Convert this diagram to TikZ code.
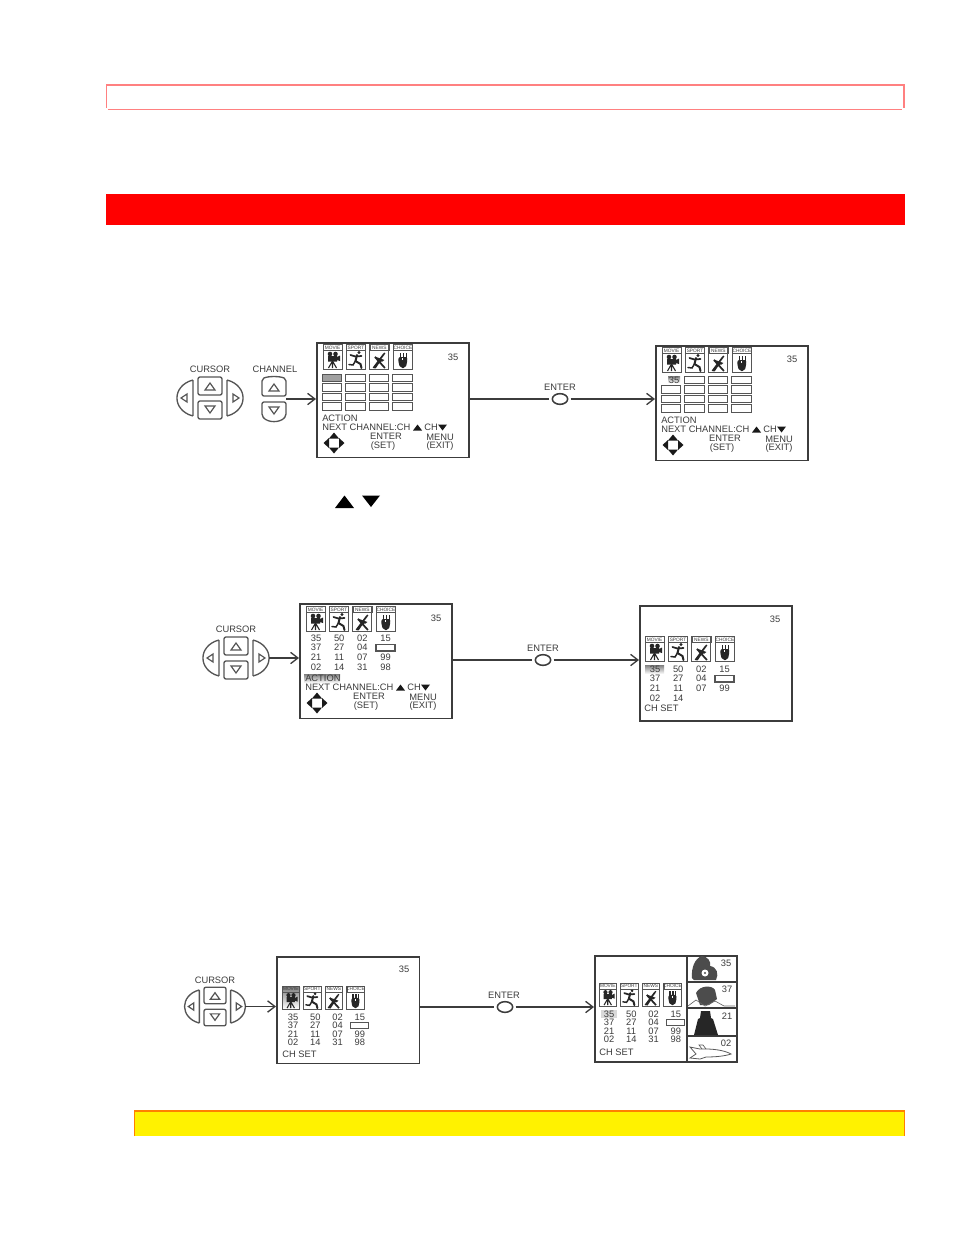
\documentclass[tikz,border=0pt]{standalone}
\usepackage{fontspec}
\setmainfont{Liberation Sans}
\usepackage{xcolor}
\usetikzlibrary{arrows.meta, calc, shapes.geometric}
\definecolor{ink}{HTML}{3C3C3C}
\definecolor{keyline}{HTML}{555555}
\definecolor{shade}{HTML}{A0A0A0}
\definecolor{pinkline}{HTML}{FF8080}
\definecolor{orangeline}{HTML}{FF8000}

\tikzset{
  panel/.style={draw=ink, line width=1.35pt, fill=white, inner sep=0pt, anchor=north west},
  enterbtn/.style={draw=ink, line width=1.15pt, ellipse, minimum width=11.5pt, minimum height=8pt, inner sep=0pt, outer sep=2.2pt},
  wire/.style={draw=ink, line width=1pt},
  label/.style={text=ink, font=\fontsize{7}{8}\selectfont, inner sep=0pt},
  tiny/.style={text=ink, font=\fontsize{3.6}{4}\selectfont, inner sep=0pt},
  key/.style={draw=keyline, line width=1pt, rounded corners=1.5pt, fill=white},
  cell/.style={draw=keyline, line width=.6pt},
  % cursor keys, centre of the pad at the origin
  pics/cursorpad/.style={code={
    \draw[key] (-12,-21) rectangle (12,-3);
    \draw[key] (-12,3) rectangle (12,21);
    \draw[keyline, line width=.9pt] (-5,-8) -- (0,-15) -- (5,-8) -- cycle;
    \draw[keyline, line width=.9pt] (-5,8) -- (0,15) -- (5,8) -- cycle;
    \draw[key, rounded corners=.5pt] (-17,-18) .. controls (-28,-15) and (-33,-7) .. (-33,0) .. controls (-33,7) and (-28,15) .. (-17,18) -- cycle;
    \draw[key, rounded corners=.5pt] (17,-18) .. controls (28,-15) and (33,-7) .. (33,0) .. controls (33,7) and (28,15) .. (17,18) -- cycle;
    \draw[keyline, line width=.9pt] (-23,-4) -- (-29,0) -- (-23,4) -- cycle;
    \draw[keyline, line width=.9pt] (23,-4) -- (29,0) -- (23,4) -- cycle;
    \coordinate (-out) at (33,0);
  }},
  % channel keys, same origin
  pics/channelpad/.style={code={
    \draw[key] (-12,-20) .. controls (-6,-23) and (6,-23) .. (12,-20) -- (12,-3) -- (-12,-3) -- cycle;
    \draw[key] (-12,3) -- (12,3) -- (12,17) .. controls (6,24) and (-6,24) .. (-12,17) -- cycle;
    \draw[keyline, line width=.9pt] (-5,-8) -- (0,-15) -- (5,-8) -- cycle;
    \draw[keyline, line width=.9pt] (-5,8) -- (0,15) -- (5,8) -- cycle;
    \coordinate (-out) at (12,0);
  }},
  % the four programme icons
  pics/iconrow/.style={code={
    \foreach \ix/\word in {0/MOVIE,1/SPORT,2/NEWS,3/CHOICE} {
      \begin{scope}[xshift=\ix*17.6pt]
        \draw[keyline, line width=.7pt] (0,0) rectangle (19,25.5);
        \draw[keyline, line width=.4pt] (0,0) rectangle (19,6.5);
        \node[tiny] (-word\ix) at (9.5,3.4) {\word};
      \end{scope}
    }
    % camera
    \fill[black!85] (7,10) circle (2.3) (12.5,10) circle (2.3) (5,12) rectangle (14,17.5) (14,13) -- (17,11.5) -- (17,17) -- (14,16) -- cycle;
    \draw[black!85, line width=.8pt] (9.5,17) -- (5.5,24) (9.5,17) -- (13.5,24) (9.5,17) -- (9.5,24);
    % runner
    \begin{scope}[xshift=17.6pt]
      \fill[black!85] (12.5,8.5) circle (1.6);
      \draw[black!85, line width=1.3pt, line cap=round] (4,11) -- (9,12.5) -- (15,12);
      \draw[black!85, line width=1.5pt, line cap=round] (10.5,11) -- (9,17) -- (14,20) -- (15,24);
      \draw[black!85, line width=1.1pt, line cap=round] (9,17) -- (6.5,21) -- (2.5,20.5);
    \end{scope}
    % dish
    \begin{scope}[xshift=35.2pt]
      \draw[black!85, line width=1.3pt] (3.5,24) -- (14,10) (5,13) -- (15,24) (9,18) -- (5,24);
      \fill[black!85] (5,12.5) .. controls (8,19) and (12,19) .. (14.5,16) -- (9,14) -- cycle;
      \fill[black!85] (14.5,9.5) circle (1);
    \end{scope}
    % hand
    \begin{scope}[xshift=52.8pt]
      \fill[black!85, rounded corners=1.5pt] (5,13) -- (14,13) -- (13.5,20) -- (12,24) -- (7,24) -- (5,19) -- cycle;
      \fill[white] (9,13.5) rectangle (9.7,16);
      \draw[black!85, line width=1.1pt] (7,9) -- (7,14) (10,9) -- (10,14) (13,9) -- (13,14);
    \end{scope}
  }},
  % lines under the grid or the table
  pics/menufoot/.style={code={
    \node[label, anchor=west] (-action) at (0,0) {ACTION};
    \node[label, anchor=west] (-next) at (0,9.5) {NEXT CHANNEL:CH};
    \fill[black!90] (91,12.5) -- (95.5,6.5) -- (100,12.5) -- cycle;
    \node[label, anchor=west] (-ch) at (102,9.5) {CH};
    \fill[black!90] (116,6.5) -- (120.5,12.5) -- (125,6.5) -- cycle;
    \node[label] (-enter) at (64,18.5) {ENTER};
    \node[label] (-set) at (61,28) {(SET)};
    \node[label] (-menu) at (118,19) {MENU};
    \node[label] (-exit) at (118,28) {(EXIT)};
    \fill[black!90] (12,14.5) -- (7,20.5) -- (17,20.5) -- cycle
      (12,35.5) -- (7,29.5) -- (17,29.5) -- cycle
      (1.5,25) -- (7,20) -- (7,30) -- cycle
      (22.5,25) -- (17,20) -- (17,30) -- cycle;
  }},
  % channel numbers in four columns
  pics/chantable/.style={code={
    \foreach \txt [count=\i from 0] in {#1} {
      \pgfmathtruncatemacro{\icol}{mod(\i,4)}
      \pgfmathtruncatemacro{\irow}{int(\i/4)}
      \node[label] (-n\i) at (\icol*23.2,\irow*9.6) {\txt};
    }
    \draw[cell, line width=.8pt] (60,6.5) rectangle (79,13);
  }},
}

\begin{document}
\begin{tikzpicture}[x=.75pt, y=-.75pt, >={Straight Barb[length=5.5pt, width=8.5pt]}]
  \useasboundingbox (0,0) rectangle (954,1235);

  % Page bars
  \draw[pinkline, line width=.8pt] (106.5,108) -- (106.5,85) -- (904,85) -- (904,108);
  \draw[pinkline, line width=.8pt] (108,109.3) -- (902,109.3);
  \fill[red] (106,194) rectangle (905,225);
  \fill[yellow] (134.5,1110) rectangle (904.5,1136);
  \draw[orangeline, line width=.5pt] (134.5,1136) -- (134.5,1110.5) (904.5,1110.5) -- (904.5,1136);
  \draw[orangeline, line width=1.3pt] (134,1110.7) -- (905,1110.7);

  % First row
  \node[label] (cursorA) at (210,369) {CURSOR};
  \node[label] (channelA) at (275,369) {CHANNEL};
  \pic (padA) at (210,398) {cursorpad};
  \pic (chanA) at (274,399) {channelpad};
  \node[panel, minimum width=114pt, minimum height=86pt] (menuA) at (316,342) {};
  \node[panel, minimum width=114pt, minimum height=86pt] (menuB) at (655,345) {};
  \node[enterbtn] (enterA) at (560,399) {};
  \node[label] (enterlabelA) at (560,387) {ENTER};
  \draw[->, wire] (chanA-out) -- (chanA-out -| menuA.west);
  \draw[wire] (menuA.east |- enterA) -- (enterA);
  \draw[->, wire] (enterA) -- (enterA -| menuB.west);

  \pic at (323,344) {iconrow};
  \pic at (662,347) {iconrow};
  \node[label] (numA) at (453,357) {35};
  \node[label] (numB) at (792,359) {35};
  \foreach \gx/\gy in {322/374,661/376} {
    \foreach \row in {0,1,2,3} {
      \foreach \col in {0,1,2,3} {
        \draw[cell] (\gx+\col*23.5,\gy+\row*9.6) rectangle (\gx+\col*23.5+19.5,\gy+\row*9.6+7.5);
      }
    }
  }
  \fill[white] (660,375) rectangle (682,384);
  \draw[cell, fill=shade] (322,374) rectangle (341.5,381.5);
  \fill[shade] (668,376) rectangle (680,383);
  \node[label] (chosenB) at (674,380) {35};
  \pic (footA) at (322,418) {menufoot};
  \pic (footB) at (661,420) {menufoot};

  % Pair of arrows under the first row
  \fill[black] (335,508) -- (344.5,495.5) -- (354,508) -- cycle;
  \fill[black] (362,495.5) -- (371,507) -- (380,495.5) -- cycle;

  % Second row
  \node[label] (cursorB) at (236,629) {CURSOR};
  \pic (padB) at (236,658) {cursorpad};
  \node[panel, minimum width=114pt, minimum height=86pt] (menuC) at (299,603) {};
  \node[panel, minimum width=114pt, minimum height=86.5pt] (menuD) at (639,605) {};
  \node[enterbtn] (enterB) at (543,660) {};
  \node[label] (enterlabelB) at (543,648) {ENTER};
  \draw[->, wire] (padB-out) -- (padB-out -| menuC.west);
  \draw[wire] (menuC.east |- enterB) -- (enterB);
  \draw[->, wire] (enterB) -- (enterB -| menuD.west);

  \pic at (306,606) {iconrow};
  \pic at (645,636) {iconrow};
  \node[label] (numC) at (436,618) {35};
  \node[label] (numD) at (775,619) {35};
  \pic at (316,638) {chantable={35,50,02,15,37,27,04,,21,11,07,99,02,14,31,98}};
  \fill[shade] (304,674) rectangle (340,683);
  \pic at (305,678) {menufoot};
  \fill[shade] (645,665) rectangle (664,674);
  \pic at (655,669) {chantable={35,50,02,15,37,27,04,,21,11,07,99,02,14}};
  \node[label, anchor=west] (chsetD) at (644,708) {CH SET};

  % Third row
  \node[label] (cursorC) at (215,980) {CURSOR};
  \pic[scale=.92] (padC) at (215,1006.5) {cursorpad};
  \node[panel, minimum width=107pt, minimum height=80pt] (menuE) at (276,956) {};
  \node[panel, minimum width=106.5pt, minimum height=79.5pt] (menuF) at (594,955) {};
  \node[enterbtn] (enterC) at (505,1007) {};
  \node[label] (enterlabelC) at (504,995) {ENTER};
  \draw[->, wire] (padC-out) -- (padC-out -| menuE.west);
  \draw[wire] (menuE.east |- enterC) -- (enterC);
  \draw[->, wire] (enterC) -- (enterC -| menuF.west);

  \fill[shade] (282,987) rectangle (300,1009);
  \pic[scale=.92] at (282,986) {iconrow};
  \pic[scale=.92] at (599,983) {iconrow};
  \node[label] (numE) at (404,969) {35};
  \pic[xscale=.96, yscale=.88] at (293,1017) {chantable={35,50,02,15,37,27,04,,21,11,07,99,02,14,31,98}};
  \node[label, anchor=west] (chsetE) at (282,1054) {CH SET};
  \fill[black!15] (601,1010) rectangle (617,1018);
  \pic[xscale=.96, yscale=.88] at (609,1014) {chantable={35,50,02,15,37,27,04,,21,11,07,99,02,14,31,98}};
  \node[label, anchor=west] (chsetF) at (599,1052) {CH SET};

  % Picture strip of the last screen
  \draw[ink, line width=1.2pt] (687,955) -- (687,1061);
  \draw[ink, line width=.9pt] (687,982) -- (736,982) (687,1008) -- (736,1008) (687,1036) -- (736,1036);
  \node[label] (stripA) at (726,963) {35};
  \node[label] (stripB) at (727,989) {37};
  \node[label] (stripC) at (727,1016) {21};
  \node[label] (stripD) at (726,1043) {02};
  % film maker
  \fill[black!70] (692,978) .. controls (691,968) and (695,958) .. (702,956) .. controls (708,957) and (711,961) .. (710,966) .. controls (717,967) and (719,974) .. (716,980) -- (694,980) -- cycle;
  \fill[white] (705,973) circle (3.5);
  \fill[black!70] (705,973) circle (1.2);
  % crew on a hill
  \fill[black!70] (696,993) .. controls (700,985) and (712,985) .. (715,990) -- (717,999) -- (709,1005) -- (700,1005) -- cycle;
  \draw[black!60, line width=.5pt] (688,1006) -- (696,1000) -- (705,1006) -- (715,1001) -- (724,1006) -- (735,1006);
  % figure in a hat
  \fill[black!85] (701,1011) -- (710,1011) -- (711,1018) -- (713,1019) -- (718,1035) -- (694,1035) -- (698,1019) -- (700,1018) -- cycle;
  % shuttle
  \draw[black!65, line width=.6pt] (690,1047) -- (700,1049) -- (706,1049) .. controls (716,1049) and (726,1051) .. (731,1054) .. controls (725,1056) and (716,1057) .. (706,1057) -- (700,1059) -- (690,1058) -- (696,1054) -- cycle;
  \draw[black!65, line width=.5pt] (706,1049) -- (703,1045) -- (699,1045) -- (702,1049);
\end{tikzpicture}
\end{document}
